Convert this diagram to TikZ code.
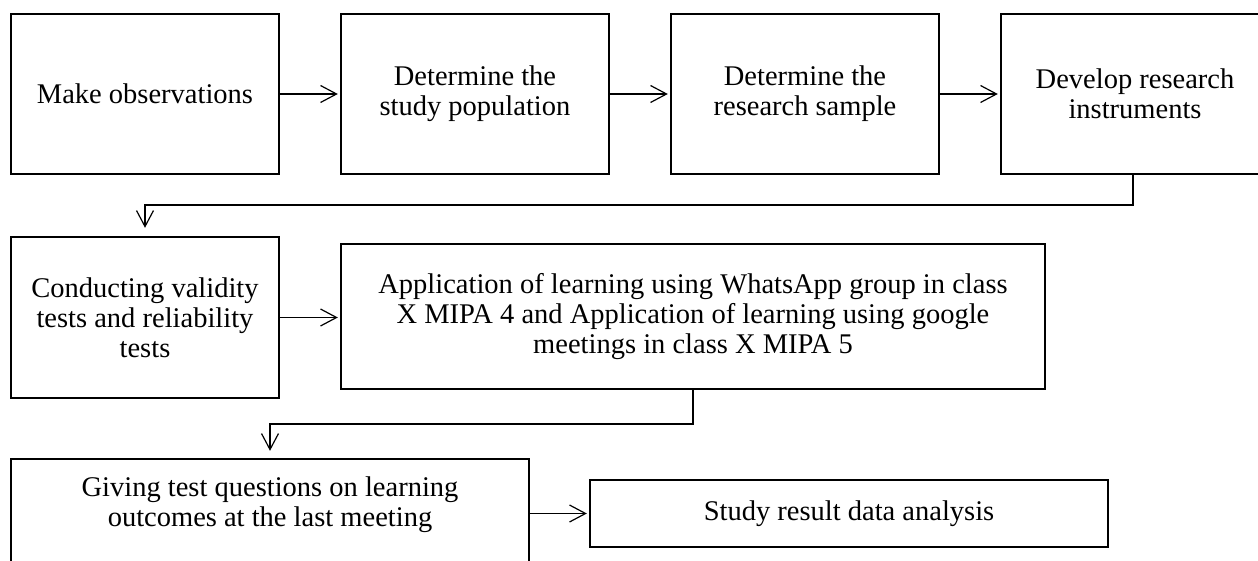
\documentclass[tikz,border=0pt]{standalone}
\usepackage{fontspec}
\setmainfont{Liberation Serif}
\usetikzlibrary{arrows.meta}
\begin{document}
\begin{tikzpicture}[x=1pt,y=-1pt,
  box/.style={draw, line width=2.4pt, inner sep=0pt, align=center,
    font=\fontsize{28.5}{30}\selectfont},
  txt/.style={inner sep=0pt, align=center, font=\fontsize{28.5}{30}\selectfont},
  conn/.style={line width=1.2pt, -{Straight Barb[length=16pt,width=17pt]}}]
\path[use as bounding box] (0,0) rectangle (1258,561);
\clip (0,0) rectangle (1258,561);
% top row
\node[box, minimum width=268pt, minimum height=160pt] (b1) at (145,94) {Make observations};
\node[box, minimum width=268pt, minimum height=160pt] (b2) at (475,94) {Determine the\\study population};
\node[box, minimum width=268pt, minimum height=160pt] (b3) at (805,94) {Determine the\\research sample};
\node[box, minimum width=268pt, minimum height=160pt] (b4) at (1135,94) {Develop research\\instruments};
% middle row
\node[box, minimum width=268pt, minimum height=161pt] (b5) at (145,317.5) {Conducting validity\\tests and reliability\\tests};
\node[box, minimum width=704pt, minimum height=145pt] (b6) at (693,316.5) {Application of learning using WhatsApp group in class\\X MIPA 4 and Application of learning using google\\meetings in class X MIPA 5};
% bottom row
\node[box, minimum width=518pt, minimum height=142pt] (b7) at (270,530) {};
\node[txt] (t7) at (270,505) {Giving test questions on learning\\outcomes at the last meeting};
\node[box, minimum width=518pt, minimum height=67pt] (b8) at (849,513.5) {Study result data analysis};
% connectors
\draw[conn, shorten >=2pt] (b1.east) -- (b2.west);
\draw[conn, shorten >=2pt] (b2.east) -- (b3.west);
\draw[conn, shorten >=2pt] (b3.east) -- (b4.west);
\coordinate (k1) at (1133,205);
\draw[conn, shorten >=8pt] (b4.south -| k1) -- (k1) -| (b5.north);
\draw[conn, shorten >=2pt] (b5.east) -- (b5.east -| b6.west);
\coordinate (k2) at (693,424);
\draw[conn, shorten >=7pt] (b6.south) -- (k2) -| (b7.north);
\draw[conn, shorten >=2pt] (b8.west -| b7.east) -- (b8.west);
\end{tikzpicture}
\end{document}
